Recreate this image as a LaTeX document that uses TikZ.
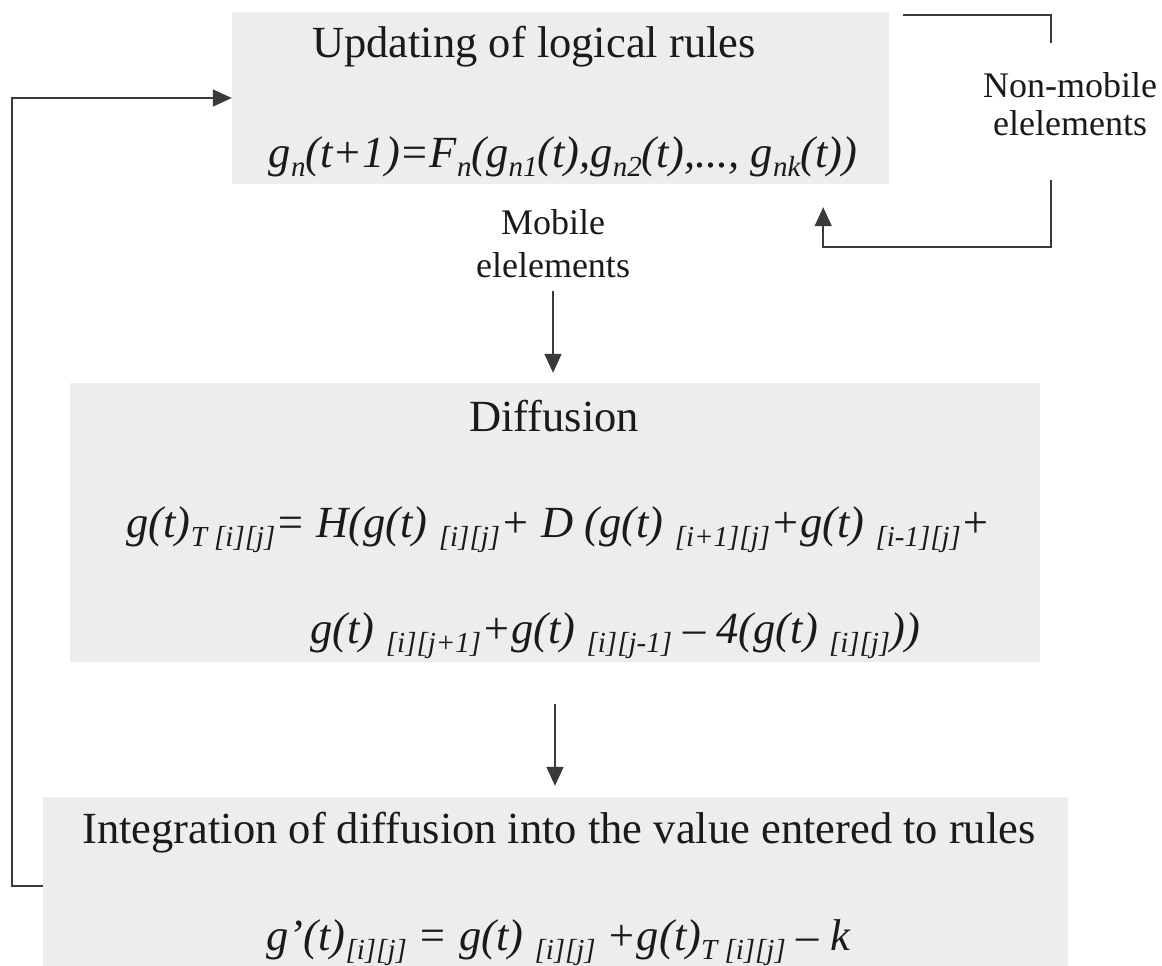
\documentclass[tikz,border=0pt]{standalone}
\usepackage{fontspec}
\setmainfont{Liberation Serif}
\usepackage{xcolor}
\usetikzlibrary{arrows.meta}
\definecolor{fblack}{HTML}{1a1a1a}
\definecolor{fline}{HTML}{3a3a3a}
\definecolor{fgray}{HTML}{ededed}
\newcommand{\sbx}[1]{\raisebox{-9pt}{\fontsize{29}{29}\selectfont #1}}

\begin{document}
\begin{tikzpicture}[x = 1pt, y = -1pt,
		grybox/.style = {fill = fgray, inner sep = 0pt},
		ttl/.style = {anchor = base, text = fblack, font = \fontsize{44.5}{50}\selectfont},
		fml/.style = {anchor = base, text = fblack, font = \fontsize{44.5}{50}\selectfont\itshape},
		lbl/.style = {anchor = base, text = fblack, align = center, font = \fontsize{36}{43}\selectfont},
		ln/.style = {draw = fline, line width = 1.6pt},
		arr/.style = {ln, -{Triangle[length = 19pt, width = 17pt]}}]
		\useasboundingbox (0,0) rectangle (1162,966);
		% boxes
		\node[grybox, minimum width = 657, minimum height = 172] (rules) at (560.5,98) {};
		\node[grybox, minimum width = 970, minimum height = 279] (diff) at (555,522.5) {};
		\node[grybox, minimum width = 1025, minimum height = 178] (integ) at (555.5,886) {};
		% texts
		\node[ttl] (t1) at (534,58) {Updating of logical rules};
		\node[fml] (f1) at (563,167) {g\sbx{n}(t+1)=F\sbx{n}(g\sbx{n1}(t),g\sbx{n2}(t),..., g\sbx{nk}(t))};
		\node[ttl] (t2) at (554,431) {Diffusion};
		\node[fml, anchor = base west] (f2a) at (123,537) {g(t)\sbx{T [i][j]}= H(g(t) \sbx{[i][j]}+ D (g(t) \sbx{[i+1][j]}+g(t) \sbx{[i-1][j]}+};
		\node[fml, anchor = base west] (f2b) at (307,643) {g(t) \sbx{[i][j+1]}+g(t) \sbx{[i][j-1]} – 4(g(t) \sbx{[i][j]}))};
		\node[ttl] (t3) at (559,843) {Integration of diffusion into the value entered to rules};
		\node[fml, anchor = base west] (f3) at (263,950) {g’(t)\sbx{[i][j]} = g(t) \sbx{[i][j]} +g(t)\sbx{T [i][j]} – k};
		\node[lbl] (mobile) at (553,277) {Mobile\\elelements};
		\node[lbl] (nonmob) at (1070,135) {Non-mobile\\[-5pt]elelements};
		% connectors
		\coordinate (nmtop) at (903,15);
		\coordinate (nmend) at (1051,43);
		\coordinate (nmbot) at (1051,180);
		\draw[ln] (nmtop) -| (nmend);
		\draw[arr, shorten >= 23pt] (nmbot) -- ++(0,67) -| ([xshift = -66pt]rules.south east);
		\draw[arr, shorten <= 10pt, shorten >= 10pt] (mobile.south) -- (mobile.south |- diff.north);
		\draw[arr, shorten <= 42pt, shorten >= 11pt] (diff.south) -- (diff.south |- integ.north);
		\draw[arr] (integ.west) -- ++(-31,0) |- (rules.west);
\end{tikzpicture}
\end{document}
